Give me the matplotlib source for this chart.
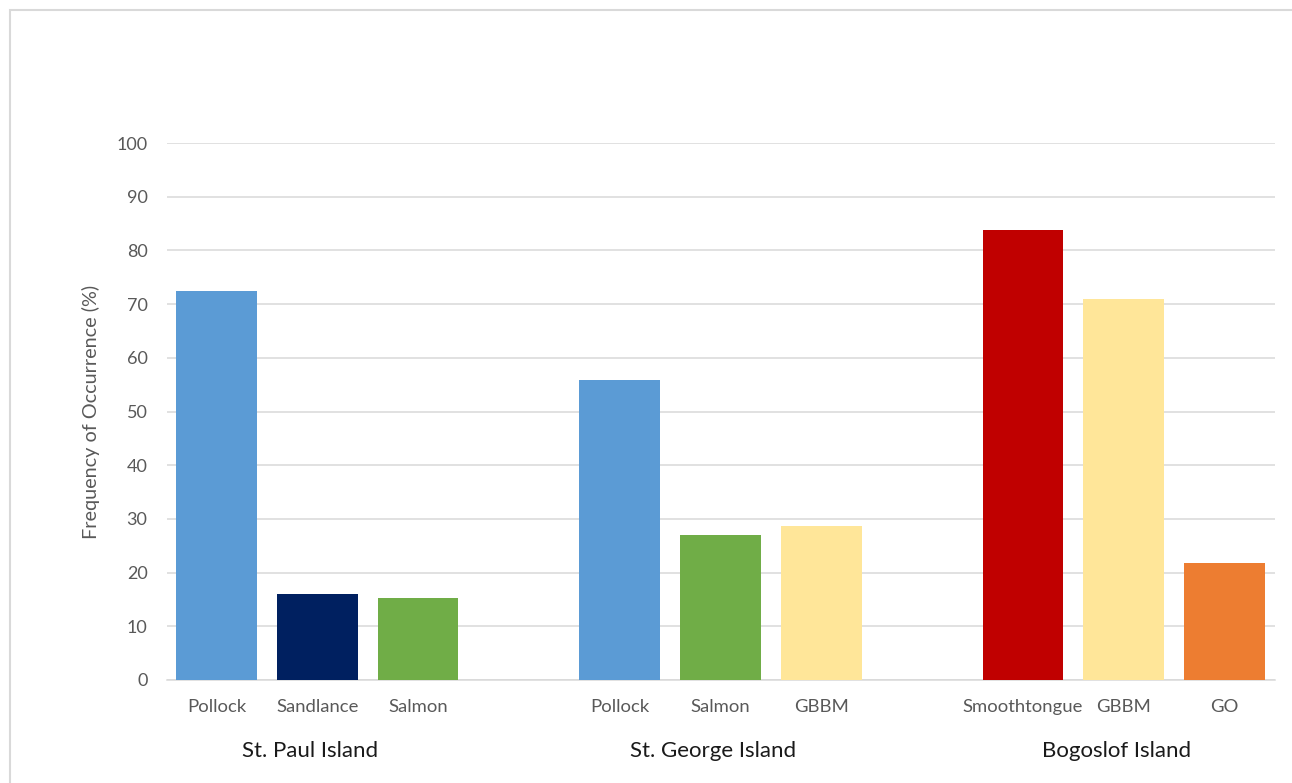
import matplotlib.pyplot as plt
from matplotlib.patches import Rectangle

plt.rcParams['font.family'] = ['Lato', 'DejaVu Sans']

# datos
islands = ["St. Paul Island", "St. George Island", "Bogoslof Island"]
species = ["Pollock", "Sandlance", "Salmon",
           "Pollock", "Salmon", "GBBM",
           "Smoothtongue", "GBBM", "GO"]
values = [72.4, 16.0, 15.3,
          55.9, 27.0, 28.7,
          83.8, 70.9, 21.8]
colors = ["#5b9bd5", "#002060", "#70ad47",
          "#5b9bd5", "#70ad47", "#ffe699",
          "#c00000", "#ffe699", "#ed7d31"]
group_size = 3

# posiciones con un hueco entre grupos
pos = []
for i in range(len(species)):
    g = i // group_size
    pos.append(i + g)

fig = plt.figure(figsize=(12.92, 7.83), dpi=100)
ax = fig.add_axes([167/1292, 103/783, (1275-167)/1292, (680-143)/783])

ax.bar(pos, values, width=0.8, color=colors, zorder=3)

ax.set_ylim(0, 100)
ax.set_xlim(-0.49, 10.5)
ax.set_yticks(range(0, 101, 10))
ax.yaxis.grid(True, color="#d9d9d9", linewidth=1.1, zorder=0)
for s in ["top", "right", "left"]:
    ax.spines[s].set_visible(False)
ax.spines["bottom"].set_color("#d9d9d9")
ax.spines["bottom"].set_linewidth(1.1)
ax.tick_params(axis="both", length=0, labelcolor="#595959")
ax.tick_params(axis="y", pad=14, labelsize=13)
ax.tick_params(axis="x", pad=14, labelsize=13.3)
ax.set_xticks(pos)
ax.set_xticklabels(species)
ax.set_ylabel("Frequency of Occurrence (%)", fontsize=14.3, color="#595959", labelpad=12)

# nombres de las islas debajo de cada grupo
for g, name in enumerate(islands):
    center = pos[g * group_size + 1]
    ax.text(center - 0.07, -13.3, name, ha="center", va="center",
            fontsize=16, color="#1a1a1a", transform=ax.transData)

# marco gris de la figura
fig.patches.append(Rectangle((10/1292, -0.1), 1.2, (783-10)/783 + 0.1,
                             transform=fig.transFigure, fill=False,
                             edgecolor="#d9d9d9", linewidth=1.5))

fig.savefig("out.png", dpi=100)
